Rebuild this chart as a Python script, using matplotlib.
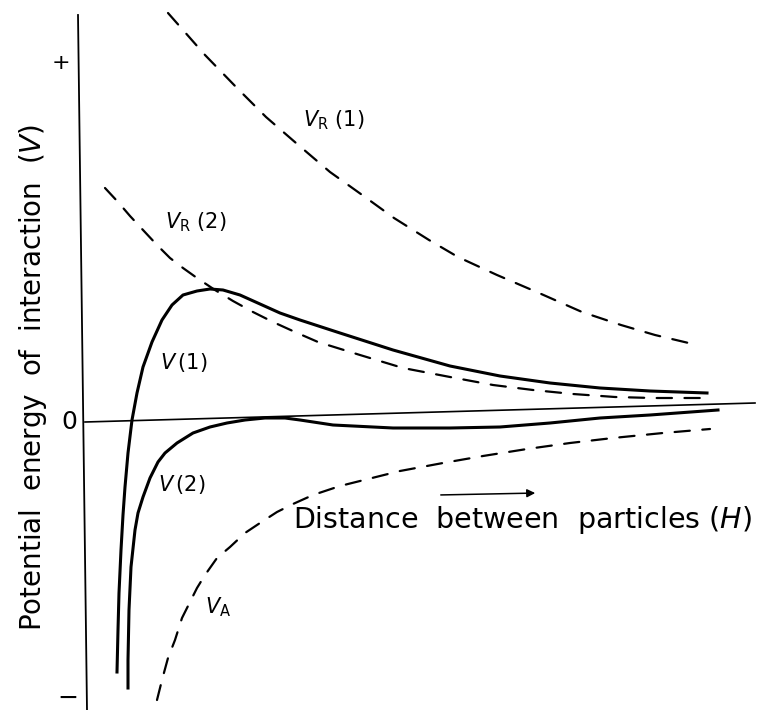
import numpy as np
import matplotlib
matplotlib.use("Agg")
import matplotlib.pyplot as plt

plt.rcParams['font.family'] = ['DejaVu Sans']
plt.rcParams['mathtext.fontset'] = 'dejavusans'
plt.rcParams['lines.scale_dashes'] = False

# distance H and potential V (arbitrary units)
h_vr1 = [85, 122, 154, 183, 213, 247, 282, 311, 346, 375, 414, 456, 499, 538, 572, 614]
v_vr1 = [409, 367, 334, 305, 279, 250, 225, 204, 182, 165, 147, 129, 110, 97, 87, 77]

h_vr2 = [22, 35, 47, 60, 74, 87, 100, 114, 132, 150, 170, 190, 212, 235, 277, 320,
         367, 410, 450, 490, 532, 570, 617]
v_vr2 = [234, 220, 206, 192, 177, 164, 154, 144, 132, 121, 110, 100, 90, 80, 67, 54,
         45, 37, 32, 28, 25, 24, 24]

h_v1 = [34, 35, 36, 38, 40, 42, 45, 49, 54, 60, 69, 79, 89, 100, 114, 127, 140, 157,
        177, 197, 217, 257, 310, 367, 417, 467, 517, 567, 624]
v_v1 = [-250, -208, -171, -128, -93, -65, -31, 2, 29, 55, 80, 102, 117, 127, 131, 133,
        132, 127, 118, 109, 102, 89, 72, 56, 46, 39, 34, 31, 29]

h_v2 = [45, 45, 46, 48, 52, 55, 60, 67, 75, 82, 94, 110, 127, 144, 162, 182, 202, 217,
        250, 310, 367, 417, 467, 517, 567, 635]
v_v2 = [-266, -238, -188, -145, -108, -91, -75, -56, -40, -31, -21, -11, -5, -1, 2, 4,
        4, 2, -3, -6, -6, -5, -1, 4, 7, 12]

h_va = [74, 79, 85, 92, 99, 107, 114, 122, 134, 147, 162, 177, 194, 210, 230, 257, 277,
        317, 360, 400, 444, 487, 530, 580, 627]
v_va = [-278, -258, -236, -218, -196, -180, -166, -153, -136, -125, -111, -101, -90,
        -82, -73, -64, -59, -49, -41, -34, -27, -21, -16, -11, -7]

# hand-drawn axes (slightly tilted in the scan)
h_zero = [2, 672]
v_zero = [0, 19]
h_axis = [-5, 4]
v_axis = [407, -288]

fig = plt.figure(figsize=(7.69, 7.10), dpi=100)
ax = fig.add_axes([0, 0, 1, 1])
ax.set_xlim(-83, 686)
ax.set_ylim(-288, 422)
ax.axis('off')

ax.plot(h_axis, v_axis, color='black', lw=1.3)
ax.plot(h_zero, v_zero, color='black', lw=1.2)

dash = (0, (11, 9))
for hh, vv in [(h_vr1, v_vr1), (h_vr2, v_vr2), (h_va, v_va)]:
    ax.plot(hh, vv, color='black', lw=1.6, linestyle=dash,
            solid_joinstyle='round', dash_capstyle='round')
for hh, vv in [(h_v1, v_v1), (h_v2, v_v2)]:
    ax.plot(hh, vv, color='black', lw=2.2, solid_joinstyle='round')

ax.annotate('', xy=(455, -71), xytext=(355, -73),
            arrowprops=dict(arrowstyle='-|>', color='black', lw=1.1,
                            mutation_scale=12))

ax.text(-50, 45, 'Potential  energy  of  interaction  ($V$)', rotation=90,
        ha='center', va='center', fontsize=20)
ax.text(210, -98, 'Distance  between  particles ($H$)', ha='left', va='center',
        fontsize=20.5)

ax.text(-22, 359, '+', ha='center', va='center', fontsize=16)
ax.text(-14, 0, '0', ha='center', va='center', fontsize=18)
ax.text(-15, -276, '\u2212', ha='center', va='center', fontsize=18)

lab = 15
ax.text(220, 302, r'$V_{\mathrm{R}}$ (1)', ha='left', va='center', fontsize=lab)
ax.text(82, 200, r'$V_{\mathrm{R}}$ (2)', ha='left', va='center', fontsize=lab)
ax.text(77, 60, r'$V\,$(1)', ha='left', va='center', fontsize=lab)
ax.text(75, -63, r'$V\,$(2)', ha='left', va='center', fontsize=lab)
ax.text(122, -185, r'$V_{\mathrm{A}}$', ha='left', va='center', fontsize=lab)

fig.savefig('out.png', dpi=100)
